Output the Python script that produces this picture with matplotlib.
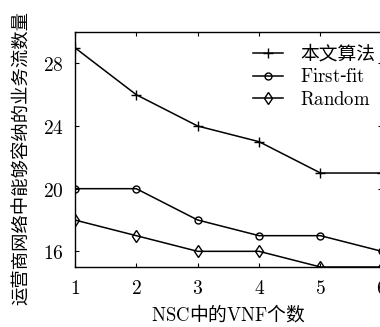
import matplotlib.pyplot as plt

plt.rcParams['font.family'] = ['Noto Sans CJK SC', 'DejaVu Serif']
plt.rcParams['mathtext.fontset'] = 'cm'

# Data
nsc_vnf = [1, 2, 3, 4, 5, 6]
ours = [29, 26, 24, 23, 21, 21]
first_fit = [20, 20, 18, 17, 17, 16]
random_alg = [18, 17, 16, 16, 15, 15]

fig = plt.figure(figsize=(3.8, 3.27), dpi=100)
ax = fig.add_axes([0.197, 0.1835, 0.808, 0.7185])

ax.plot(nsc_vnf, ours, color='black', lw=1.1, marker='+', ms=7, mew=1.0, label='本文算法')
ax.plot(nsc_vnf, first_fit, color='black', lw=1.1, marker='o', ms=5, mfc='none', mew=1.0,
        label=r'$\mathrm{First}$-$\mathrm{fit}$')
ax.plot(nsc_vnf, random_alg, color='black', lw=1.1, marker='d', ms=6, mfc='none', mew=1.0,
        label=r'$\mathrm{Random}$')

ax.set_xlim(1, 6)
ax.set_ylim(15, 30)
ax.set_xticks(nsc_vnf)
ax.set_xticklabels([r'$%d$' % v for v in nsc_vnf], fontsize=14)
ax.set_yticks([16, 20, 24, 28])
ax.set_yticklabels([r'$%d$' % v for v in [16, 20, 24, 28]], fontsize=14)
ax.tick_params(direction='in', top=True, right=True, length=3, pad=8)

for s in ax.spines.values():
    s.set_linewidth(1.0)

ax.set_xlabel(r'$\mathrm{NSC}$中的$\mathrm{VNF}$个数', fontsize=13.5, labelpad=4)
ax.set_ylabel('运营商网络中能够容纳的业务流数量', fontsize=13.2)
ax.yaxis.set_label_coords(-0.145, 0.465)

ax.legend(loc='upper right', bbox_to_anchor=(1.015, 1.0), frameon=False, fontsize=13.5,
          handlelength=1.6, handletextpad=0.9, labelspacing=0.1, borderaxespad=0.2)

fig.savefig('out.png', dpi=100)
